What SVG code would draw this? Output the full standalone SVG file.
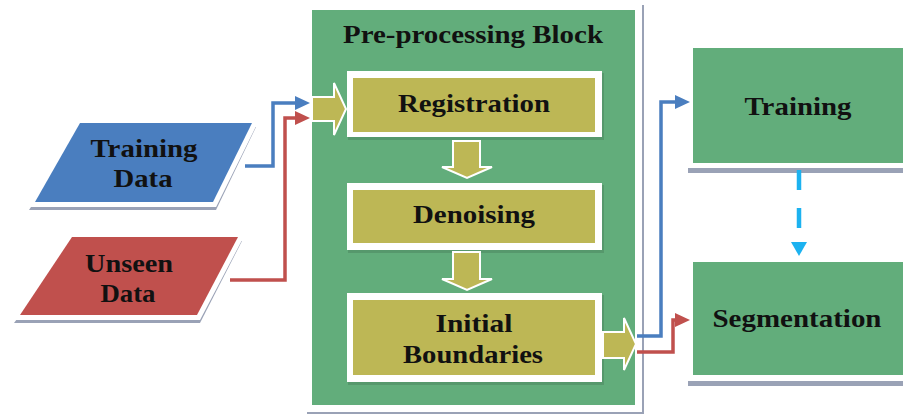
<svg xmlns="http://www.w3.org/2000/svg" width="903" height="416" viewBox="0 0 903 416">
  <defs>
    <style>
      .lbl { font-family: "Liberation Serif", "DejaVu Serif", "Times New Roman", serif; font-weight: 700; font-size: 26px; fill: #111; text-anchor: middle; }
      .shadow { fill: #9aa2b6; }
      .frame { stroke: #ffffff; stroke-width: 10; paint-order: stroke; stroke-linejoin: miter; }
      .green { fill: #62ad7b; }
      .olive { fill: #bdb755; }
      .inner-shadow { fill: #4f8a62; opacity: 0.6; }
      .blockarrow { fill: #bdb755; stroke: #ffffff; stroke-width: 2; stroke-linejoin: miter; }
      .wire { fill: none; stroke-width: 3.5; stroke-linejoin: miter; }
      .blue { stroke: #4a7ebf; }
      .red { stroke: #c0504d; }
      .dash { fill: none; stroke: #1cb2f0; stroke-width: 4.5; stroke-dasharray: 20 18; }
    </style>
    <marker id="headBlue" markerUnits="userSpaceOnUse" markerWidth="18" markerHeight="16" refX="2" refY="7" orient="auto">
      <path d="M0,0 L15,7 L0,14 Z" fill="#4a7ebf"/>
    </marker>
    <marker id="headRed" markerUnits="userSpaceOnUse" markerWidth="18" markerHeight="16" refX="2" refY="7" orient="auto">
      <path d="M0,0 L15,7 L0,14 Z" fill="#c0504d"/>
    </marker>
    <marker id="headCyan" markerUnits="userSpaceOnUse" markerWidth="18" markerHeight="18" refX="1" refY="8" orient="auto">
      <path d="M0,0 L14,8 L0,16 Z" fill="#1cb2f0"/>
    </marker>
  </defs>

  <rect width="903" height="416" fill="#ffffff"/>

  <!-- input data -->
  <g id="training-data">
    <polygon class="shadow" points="84,127 256,127 216,210 29,210"/>
    <polygon class="frame" fill="#4a7ebf" points="80,123 252,123 213,202 35,202"/>
    <text class="lbl" x="144" y="157" textLength="107" lengthAdjust="spacingAndGlyphs">Training</text>
    <text class="lbl" x="143" y="187" textLength="59" lengthAdjust="spacingAndGlyphs">Data</text>
  </g>

  <g id="unseen-data">
    <polygon class="shadow" points="76,241 242,241 200,323 14,323"/>
    <polygon class="frame" fill="#c0504d" points="72,237 238,237 197,315 20,315"/>
    <text class="lbl" x="129" y="272" textLength="88" lengthAdjust="spacingAndGlyphs">Unseen</text>
    <text class="lbl" x="128" y="302" textLength="55" lengthAdjust="spacingAndGlyphs">Data</text>
  </g>

  <!-- pre-processing block -->
  <g id="preprocessing-block">
    <rect class="shadow" x="307" y="5" width="337" height="409"/>
    <rect x="305" y="3" width="337" height="409" fill="#ffffff"/>
    <rect class="green" x="312" y="10" width="323" height="395"/>
    <text class="lbl" x="473" y="43" textLength="260" lengthAdjust="spacingAndGlyphs">Pre-processing Block</text>
  </g>

  <g id="registration">
    <rect class="inner-shadow" x="348" y="73" width="256" height="67"/>
    <rect x="347" y="71" width="255" height="66" fill="#ffffff"/>
    <rect class="olive" x="353" y="78" width="242" height="54"/>
    <text class="lbl" x="474" y="112" textLength="152" lengthAdjust="spacingAndGlyphs">Registration</text>
  </g>

  <g id="denoising">
    <rect class="inner-shadow" x="348" y="185" width="256" height="68"/>
    <rect x="347" y="183" width="255" height="67" fill="#ffffff"/>
    <rect class="olive" x="353" y="190" width="242" height="53"/>
    <text class="lbl" x="474" y="223" textLength="122" lengthAdjust="spacingAndGlyphs">Denoising</text>
  </g>

  <g id="initial-boundaries">
    <rect class="inner-shadow" x="348" y="295" width="256" height="90"/>
    <rect x="347" y="293" width="255" height="89" fill="#ffffff"/>
    <rect class="olive" x="353" y="300" width="242" height="75"/>
    <text class="lbl" x="474" y="332" textLength="77" lengthAdjust="spacingAndGlyphs">Initial</text>
    <text class="lbl" x="473" y="363" textLength="140" lengthAdjust="spacingAndGlyphs">Boundaries</text>
  </g>

  <!-- model stages -->
  <g id="training">
    <rect class="shadow" x="688" y="48" width="215" height="125"/>
    <rect x="688" y="43" width="215" height="125" fill="#ffffff"/>
    <rect class="green" x="693" y="48" width="210" height="115"/>
    <text class="lbl" x="798" y="115" textLength="107" lengthAdjust="spacingAndGlyphs">Training</text>
  </g>

  <g id="segmentation">
    <rect class="shadow" x="688" y="262" width="215" height="124"/>
    <rect x="688" y="257" width="215" height="124" fill="#ffffff"/>
    <rect class="green" x="693" y="262" width="210" height="113"/>
    <text class="lbl" x="797" y="327" textLength="169" lengthAdjust="spacingAndGlyphs">Segmentation</text>
  </g>

  <!-- connectors -->
  <g id="connectors">
    <!-- block arrows inside the pre-processing block -->
    <path class="blockarrow" d="M312,97 L334,97 L334,83 L346,109 L334,135 L334,121 L312,121 Z"/>
    <path class="blockarrow" d="M453,141 L480,141 L480,167 L492,167 L467,178 L442,167 L453,167 Z"/>
    <path class="blockarrow" d="M453,252 L480,252 L480,279 L492,279 L467,290 L442,279 L453,279 Z"/>
    <path class="blockarrow" d="M603,332 L624,332 L624,318 L636,344 L624,370 L624,358 L603,358 Z"/>

    <!-- data inputs -->
    <path class="wire blue" d="M245,166 L273,166 L273,103 L297,103" marker-end="url(#headBlue)"/>
    <path class="wire red" d="M230,280 L285,280 L285,118 L297,118" marker-end="url(#headRed)"/>

    <!-- outputs to training / segmentation -->
    <path class="wire blue" d="M637,336 L661,336 L661,102 L677,102" marker-end="url(#headBlue)"/>
    <path class="wire red" d="M637,352 L673,352 L673,320 L677,320" marker-end="url(#headRed)"/>

    <!-- trained model to segmentation -->
    <path class="dash" d="M799,170 L799,243" marker-end="url(#headCyan)"/>
  </g>
</svg>
